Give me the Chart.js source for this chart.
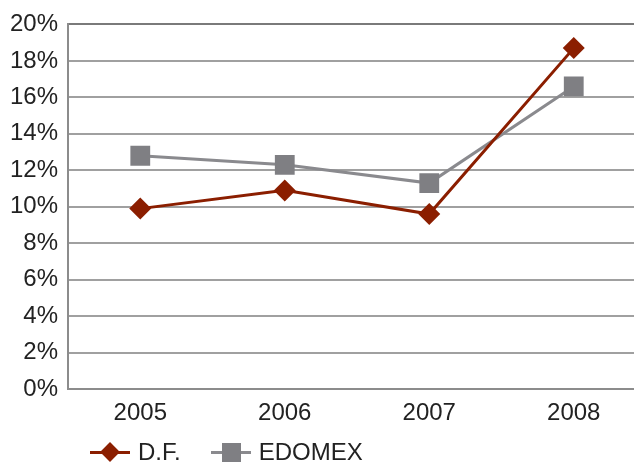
<!DOCTYPE html>
<html>
<head>
<meta charset="utf-8">
<script src="https://cdn.jsdelivr.net/npm/chart.js@4.4.0/dist/chart.umd.min.js"></script>
<style>
  html, body { margin: 0; padding: 0; background: #fff; overflow: hidden; }
  #wrap { position: relative; width: 660px; height: 465px; }
  #legend { position: absolute; left: 90px; top: 437px; display: flex; align-items: center;
    font-family: 'Liberation Sans Narrow', 'Arial Narrow', 'Liberation Sans', sans-serif; font-size: 24px; color: #222; }
  .item { display: flex; align-items: center; margin-right: 30px; }
  .sym { position: relative; width: 40px; height: 30px; margin-right: 8px; }
  .sym .ln { position: absolute; left: 0; right: 0; top: 14px; height: 3px; }
  .sym .mk { position: absolute; }
</style>
</head>
<body>
<div id="wrap">
  <canvas id="chart" width="660" height="465"></canvas>
  <div id="legend">
    <div class="item">
      <div class="sym"><div class="ln" style="background:#8b1e00"></div>
        <div class="mk" style="left:13px;top:8px;width:14px;height:14px;background:#8b1e00;transform:rotate(45deg)"></div></div>
      <span>D.F.</span>
    </div>
    <div class="item">
      <div class="sym"><div class="ln" style="background:#8a8a8e"></div>
        <div class="mk" style="left:11px;top:6px;width:19px;height:19px;background:#7f7f83"></div></div>
      <span>EDOMEX</span>
    </div>
  </div>
</div>
<script>
// Chart data
const years = ['2005', '2006', '2007', '2008'];
const dfValues = [9.9, 10.9, 9.6, 18.7];
const edomexValues = [12.8, 12.3, 11.3, 16.6];
const yTicks = [0, 2, 4, 6, 8, 10, 12, 14, 16, 18, 20];

const fontFamily = "'Liberation Sans Narrow', 'Arial Narrow', 'Liberation Sans', sans-serif";

new Chart(document.getElementById('chart').getContext('2d'), {
  type: 'line',
  data: {
    labels: years,
    datasets: [
      {
        label: 'D.F.',
        data: dfValues,
        borderColor: '#8b1e00',
        backgroundColor: '#8b1e00',
        borderWidth: 3,
        pointStyle: 'rectRot',
        pointRadius: 11,
        pointHoverRadius: 11,
        pointBorderWidth: 0,
        tension: 0
      },
      {
        label: 'EDOMEX',
        data: edomexValues,
        borderColor: '#8a8a8e',
        backgroundColor: '#7f7f83',
        borderWidth: 3,
        pointStyle: 'rect',
        pointRadius: 14,
        pointHoverRadius: 14,
        pointBorderWidth: 0,
        tension: 0
      }
    ]
  },
  options: {
    responsive: false,
    animation: false,
    layout: { padding: { top: 14, right: 11, bottom: 27, left: 0 } },
    scales: {
      x: {
        offset: true,
        grid: { display: false, drawTicks: false },
        border: { color: '#8c8c8c', width: 2 },
        ticks: { color: '#222', font: { family: fontFamily, size: 24 }, padding: 10 }
      },
      y: {
        min: 0,
        max: 20,
        afterBuildTicks: axis => { axis.ticks = yTicks.map(v => ({ value: v })); },
        grid: {
          color: ctx => ctx.tick && ctx.tick.value === 20 ? '#7a7a7a' : '#a0a0a0',
          lineWidth: 2,
          drawTicks: false
        },
        border: { color: '#8c8c8c', width: 2 },
        ticks: {
          color: '#222',
          font: { family: fontFamily, size: 24 },
          padding: 10,
          callback: v => v + '%'
        }
      }
    },
    plugins: {
      legend: { display: false },
      tooltip: { enabled: false }
    }
  }
});
</script>
</body>
</html>
